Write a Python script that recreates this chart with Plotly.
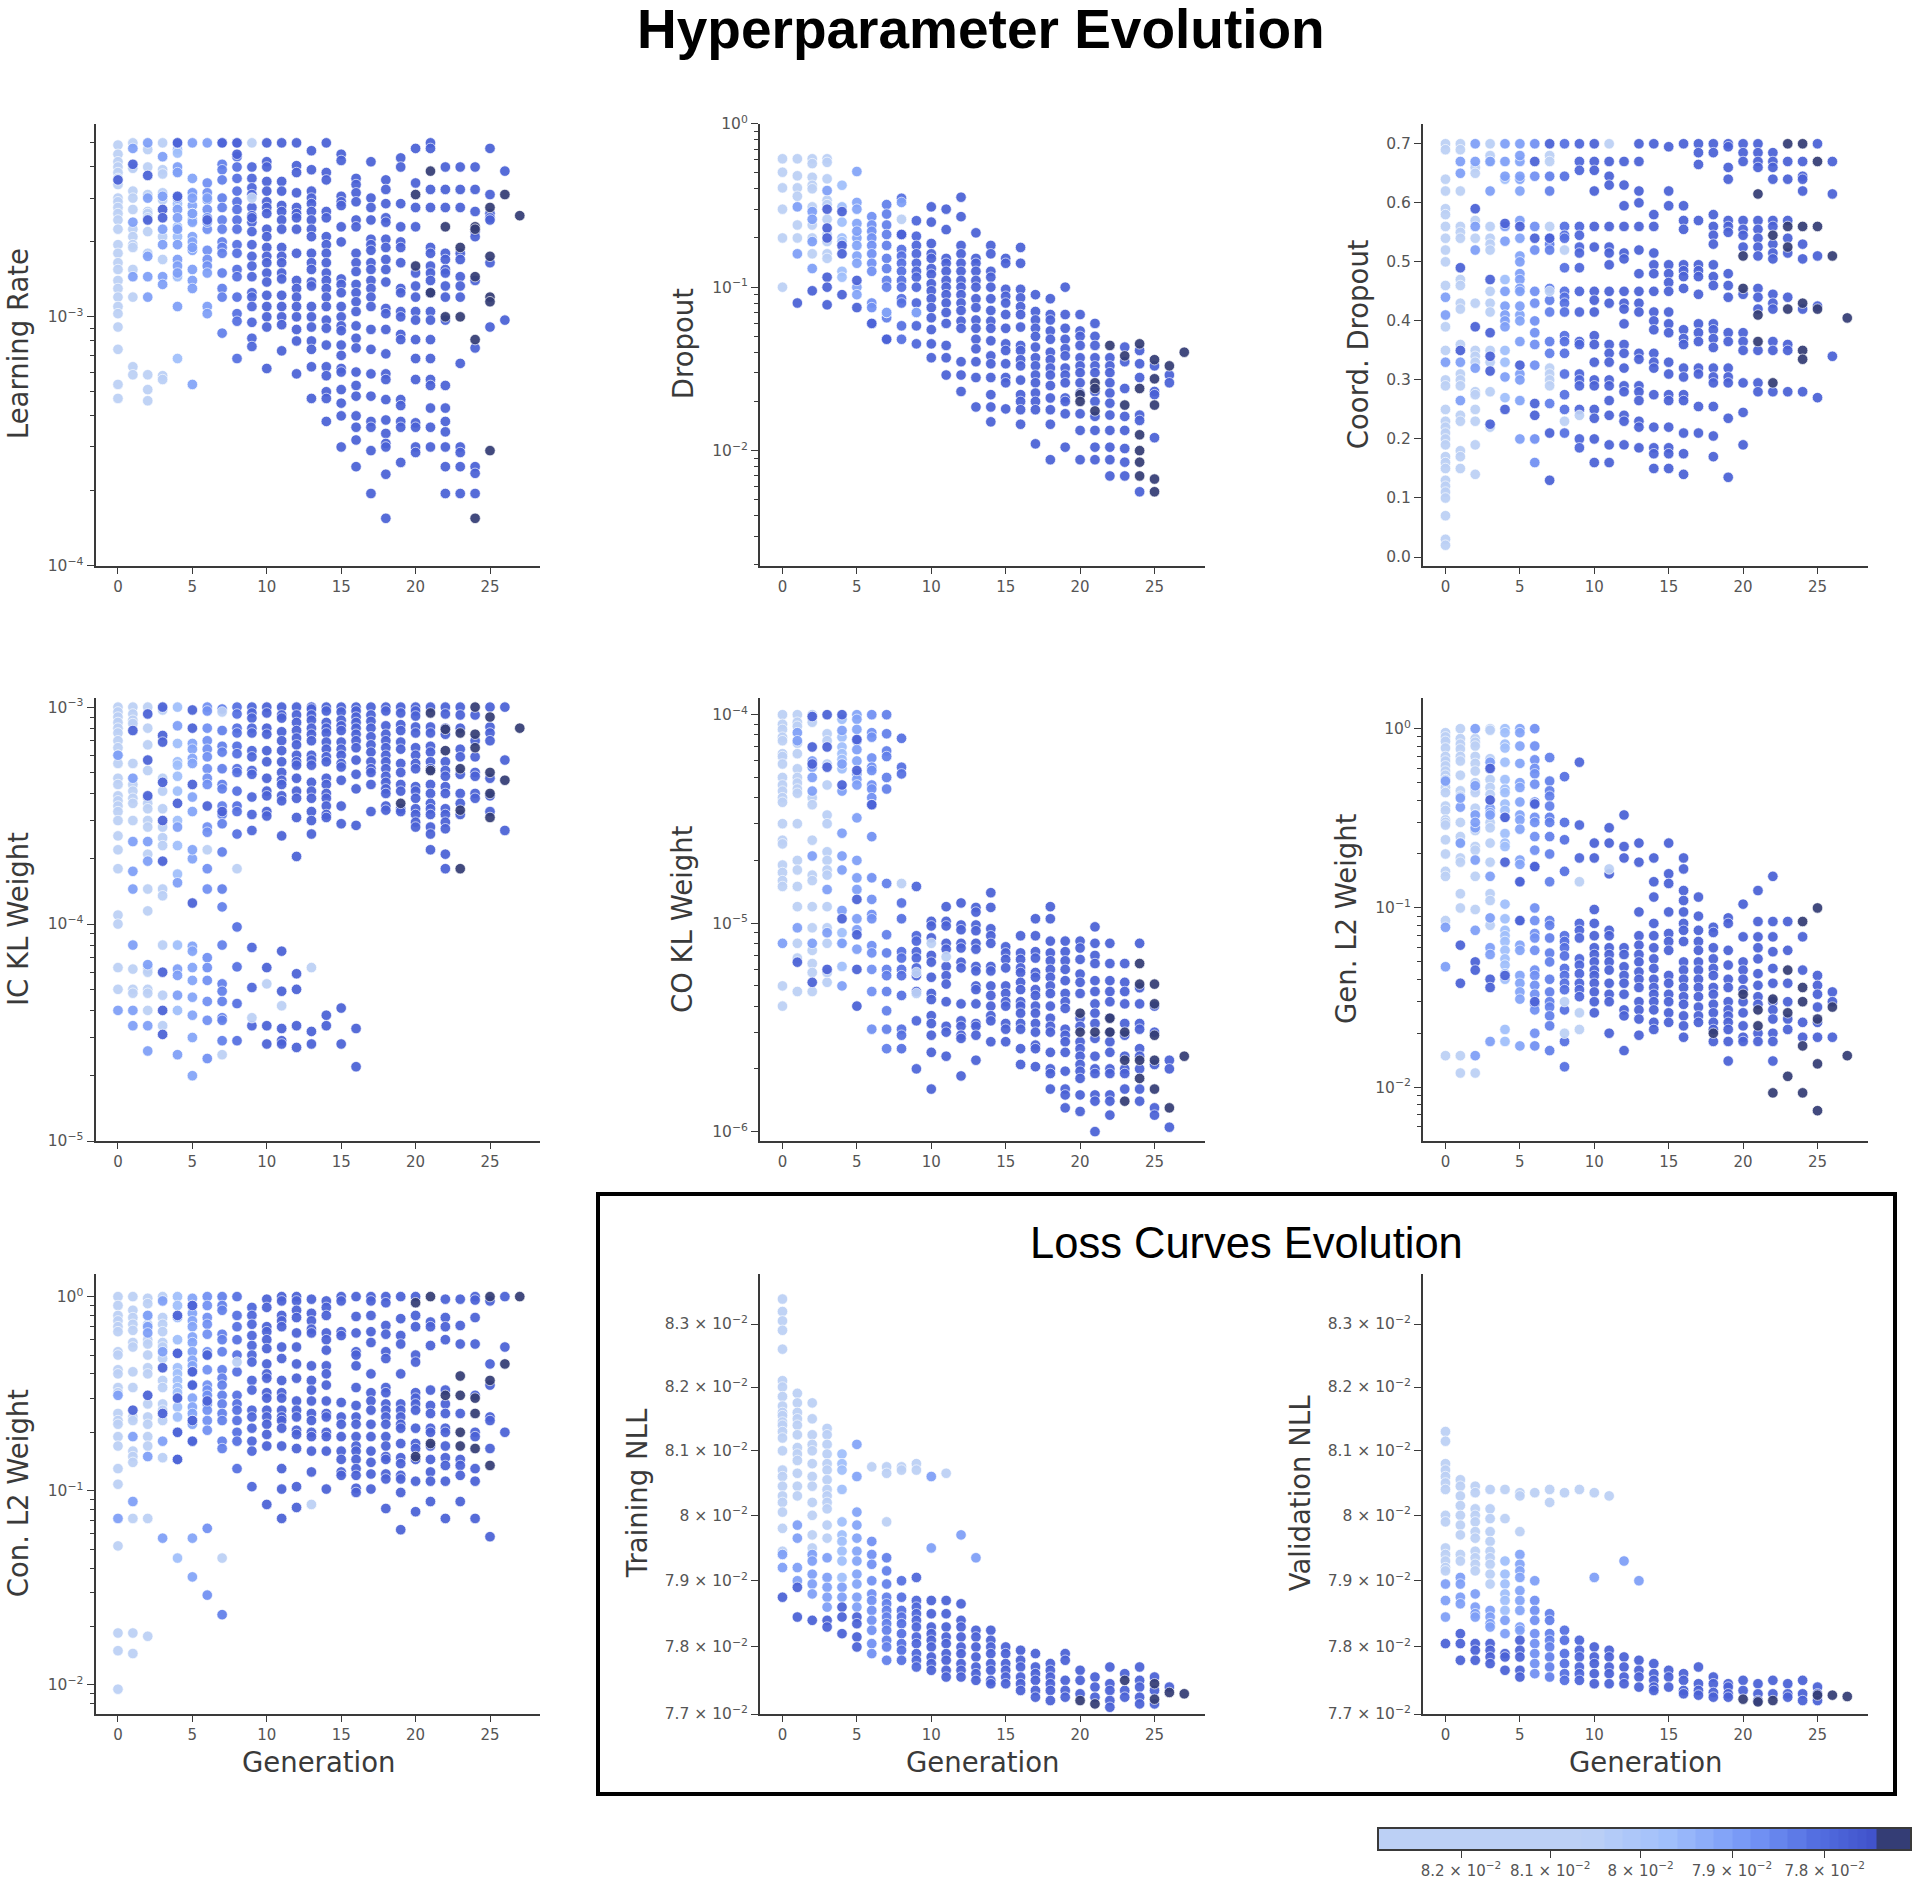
import math
import plotly.graph_objects as go

GENERATION_TICKS = [0, 5, 10, 15, 20, 25]
GEN_LOSS = [.0822, .0818, .0812, .0805, .0797, .0791, .0787, .0784, .0781, .0779] + [.0778] * 18
PALE_LOSS, BRIGHT_LOSS, ROYAL_LOSS, DARK_LOSS = .0815, .0790, .0778, .0773

# Learning Rate (x 1e-3)
LR_MAIN = {
0:[4.9,4.5,4.2,4,3.8,3.6,3.4,3.0,2.9,2.75,2.6,2.45,2.25,1.95,1.8,1.65,1.55,1.4,1.3,1.2,1.1,1.03,.91,.74,.535,.47],
1:[5,4,3.95,3.2,3,2.7,2.25,2.1,1.95,1.9,1.55,1.2,.63,.585],
2:[4.7,4.0,3.1,2.2,1.8,2.65,2.6,2.5,.585,.51,.46],
3:[5,3.9,3.75,3.15,2.95,2.1,1.7,.58,.56],
4:[4.7,4.55,3.85,2.85,2.3,2.1,1.45,.68],
5:[3.6,3.15,2.8,2.6,2.45,2.4,2.1,2.0,1.85,.535],
6:[3.45,3.15,2.95,2.7,2.5,2.25,1.85,1.7,1.6],
7:[4.1,3.9,3.55,3.0,2.75,2.45,2.25,2.0,1.9,1.8,1.5,1.3,1.2,.86],
8:[4.4,4.0,3.6,3.2,2.9,2.7,2.45,2.25,1.95,1.8,1.55,1.45,1.2,1.03,.96,.68],
9:[4.0,3.6,3.3,3.1,2.75,2.55,2.4,2.2,1.95,1.75,1.6,1.45,1.25,1.2,1.1,.95,.82,.76],
10:[5,4.2,4.0,3.5,3.2,2.9,2.75,2.6,2.25,2.1,1.9,1.75,1.65,1.5,1.38,1.22,1.1,1.0,.91,.62],
11:[5,3.5,3.2,2.8,2.65,2.45,2.25,1.9,1.75,1.65,1.5,1.42,1.22,1.1,1.0,.93,.73],
12:[5,4.05,3.8,3.15,2.75,2.6,2.5,2.25,1.8,1.4,1.3,1.2,1.1,1.0,.89,.8,.59],
13:[4.65,3.9,3.2,3.0,2.85,2.65,2.45,2.25,2.1,1.8,1.65,1.55,1.38,1.33,1.1,1.0,.91,.8,.74,.63,.47],
14:[5,3.8,3.55,2.65,2.5,2.1,1.95,1.8,1.65,1.5,1.4,1.3,1.2,1.1,.97,.9,.77,.63,.58,.5,.47,.38],
15:[4.5,4.25,3.05,2.9,2.8,2.3,2.0,1.42,1.35,1.25,1.1,1.0,.92,.88,.77,.7,.62,.6,.51,.45,.4,.3],
16:[3.6,3.4,3.15,2.9,2.45,2.3,1.8,1.65,1.52,1.35,1.25,1.15,1.05,.92,.82,.75,.6,.53,.48,.4,.36,.32,.25],
17:[4.2,3.0,2.75,2.45,2.05,1.95,1.85,1.65,1.55,1.4,1.3,1.2,1.1,.89,.74,.59,.48,.38,.36,.29,.195],
18:[3.55,3.25,2.85,2.5,2.4,2.05,1.9,1.7,1.55,1.38,1.08,1.03,.89,.71,.59,.56,.465,.385,.34,.31,.3,.233,.155],
19:[4.35,4.0,2.85,2.3,2.0,1.9,1.65,1.3,1.25,1.05,1.0,.85,.81,.465,.44,.38,.36,.26],
20:[4.75,3.45,2.75,2.3,1.5,1.33,1.2,1.05,.97,.81,.68,.56,.375,.36,.3,.285],
21:[5,4.75,3.25,2.75,1.9,1.8,1.6,1.5,1.4,1.25,1.05,.97,.81,.68,.56,.53,.43,.36,.3],
22:[4.0,3.25,2.75,1.8,1.7,1.55,1.5,1.33,1.2,.97,.53,.43,.38,.345,.3,.25,.195],
23:[4.0,3.25,2.75,1.8,1.7,1.45,1.33,1.2,.65,.3,.285,.25,.195],
24:[4.0,3.25,2.65,2.2,2.1,1.4,.75,.25,.235,.195],
25:[4.75,3.1,2.6,2.5,2.45,1.65,.91],
26:[3.85,.97]}
LR_PALE = {5:[2.6], 9:[5,3.0]}
LR_BRIGHT = {1:[4.75,2.4,1.45], 2:[5,3.0,1.75,1.45,1.2], 3:[4.4,3.05,2.25,1.95,1.45,1.35],
             4:[5,4,3.8,3,2.7,2.5,2.25,1.95,1.7,1.6,1.5,1.1], 5:[5,3.15,3.0,2.6,1.9,1.55,1.4,1.3],
             6:[5,3.0,2.4,1.5,1.1,1.03], 7:[5], 8:[5]}
LR_ROYAL = {0:[3.55], 1:[4.1], 2:[3.7,2.45], 3:[2.7,2.5], 4:[5,3.05], 6:[2.45], 7:[5], 8:[5,4.5], 9:[2.5]}
LR_DARK = {20:[3.1,1.6], 21:[3.85,1.25], 22:[2.3,1.0], 23:[1.9,1.0], 24:[2.3,2.25,1.45,.81,.155],
           25:[2.75,1.75,1.2,1.15,.29], 26:[3.1], 27:[2.55]}

# Dropout
DO_MAIN = {
0:[.61,.505,.405,.3,.2,.1],
1:[.61,.48,.405,.36,.24,.2],
2:[.61,.57,.47,.42,.4,.31,.24,.2,.16],
3:[.61,.58,.46,.34,.32,.26,.21,.19,.16,.15],
4:[.42,.2,.125,.115,.31,.25,.19],
5:[.51,.33,.3,.245,.2,.18,.155,.14,.1,.09],
6:[.27,.24,.22,.2,.18,.16,.14,.125,.08,.075,.06],
7:[.32,.28,.24,.21,.18,.15,.13,.11,.1,.065,.048],
8:[.35,.21,.17,.155,.14,.125,.11,.1,.085,.08,.058,.048],
9:[.255,.205,.18,.16,.14,.125,.115,.1,.08,.058,.045],
10:[.31,.25,.185,.16,.15,.13,.12,.105,.095,.085,.075,.065,.055,.045,.037],
11:[.3,.225,.15,.14,.125,.11,.1,.09,.08,.07,.06,.044,.037,.029],
12:[.355,.27,.18,.16,.14,.125,.11,.1,.09,.08,.072,.062,.056,.035,.029,.023],
13:[.215,.15,.14,.125,.11,.1,.085,.075,.063,.056,.048,.042,.035,.028,.0185],
14:[.18,.16,.125,.115,.1,.085,.072,.062,.056,.047,.038,.034,.028,.022,.0185,.015],
15:[.15,.14,.097,.088,.08,.068,.056,.045,.041,.034,.028,.026,.018],
16:[.175,.14,.097,.086,.076,.068,.057,.044,.041,.036,.033,.027,.022,.02,.0178,.0145],
17:[.09,.071,.063,.056,.05,.043,.037,.033,.029,.026,.0225,.02,.0178,.011],
18:[.085,.068,.063,.054,.048,.04,.036,.032,.029,.025,.021,.0178,.0145,.0088],
19:[.1,.068,.056,.048,.042,.038,.032,.029,.026,.021,.02,.0168,.0105],
20:[.068,.054,.05,.044,.037,.033,.03,.026,.0225,.0168,.0133,.0088],
21:[.06,.05,.044,.037,.033,.03,.023,.02,.0162,.0133,.0105,.0088],
22:[.037,.033,.03,.026,.0225,.0195,.0165,.0133,.0105,.0088,.007],
23:[.043,.035,.024,.0162,.0133,.0103,.0085,.007],
24:[.041,.034,.028,.0165,.0153,.0056],
25:[.033,.023,.022,.012],
26:[.029,.026]}
DO_PALE = {8:[.26], 9:[.07], 7:[.07]}
DO_BRIGHT = {1:[.31,.16], 2:[.29,.26,.19,.13], 3:[.39], 5:[.22], 7:[.07], 8:[.33], 9:[.07]}
DO_ROYAL = {1:[.08], 2:[.095], 3:[.3,.23,.2,.115,.1,.078], 4:[.29,.18,.16,.09], 5:[.11,.075], 6:[.06], 7:[.048], 8:[.21]}
DO_DARK = {20:[.022,.02], 21:[.026,.024,.0175], 22:[.044], 23:[.038,.019], 24:[.045,.024,.0125,.01,.0085,.007],
           25:[.036,.0275,.019,.0067,.0056], 26:[.033], 27:[.04]}

# Coord. Dropout
CD_MAIN = {
0:[.7,.69,.64,.62,.59,.58,.56,.54,.52,.5,.46,.39,.35,.3,.29,.25,.23,.22,.21,.2,.19,.17,.16,.15,.13,.12,.11,.1,.07,.03,.02],
1:[.7,.69,.62,.56,.55,.54,.47,.46,.43,.42,.36,.31,.3,.29,.24,.23,.18,.17,.15],
2:[.66,.65,.57,.54,.43,.35,.34,.33,.28,.275,.25,.23,.19,.14],
3:[.7,.68,.67,.56,.54,.53,.52,.45,.43,.415,.35,.33,.28,.22],
4:[.64,.47,.35,.33,.27],
5:[.62,.64,.67,.54,.51,.41,.4,.265],
6:[.7,.645,.56,.52,.45,.43,.4,.38,.36,.325,.2,.16],
7:[.645,.62,.54,.53,.52,.455,.435,.415,.365,.345,.26],
8:[.7,.645,.56,.545,.54,.49,.45,.44,.43,.415,.375,.365,.345,.31,.275,.25,.21],
9:[.7,.67,.655,.56,.545,.525,.515,.49,.45,.415,.365,.36,.31,.3,.29,.25,.2,.185],
10:[.7,.67,.655,.62,.56,.525,.45,.435,.415,.375,.36,.33,.3,.29,.25,.235,.2,.16],
11:[.67,.645,.63,.56,.525,.515,.495,.45,.43,.36,.345,.33,.3,.29,.265,.24,.19,.16],
12:[.67,.63,.595,.56,.515,.505,.45,.43,.42,.395,.36,.345,.32,.29,.28,.24,.23,.19],
13:[.7,.67,.62,.6,.56,.52,.48,.45,.43,.415,.345,.335,.29,.28,.265,.23,.22,.185],
14:[.7,.58,.56,.515,.495,.48,.45,.415,.4,.385,.345,.33,.32,.275,.22,.185,.175,.15],
15:[.695,.62,.595,.495,.48,.465,.45,.415,.395,.38,.33,.31,.275,.265,.22,.185,.175,.15],
16:[.7,.595,.57,.555,.495,.485,.475,.455,.385,.37,.36,.32,.305,.275,.265,.21,.175,.14],
17:[.7,.685,.665,.57,.495,.485,.475,.445,.395,.38,.365,.32,.31,.255,.21],
18:[.7,.685,.58,.56,.545,.53,.495,.475,.46,.395,.385,.37,.355,.32,.305,.295,.255,.205,.17],
19:[.7,.695,.66,.64,.57,.56,.55,.48,.46,.44,.38,.365,.32,.305,.295,.235,.135],
20:[.7,.685,.67,.57,.555,.545,.525,.445,.38,.365,.35,.295,.245,.19],
21:[.7,.685,.67,.66,.57,.555,.54,.525,.51,.455,.44,.42,.35,.295,.28],
22:[.685,.67,.66,.64,.57,.56,.53,.515,.505,.445,.43,.42,.365,.35,.28],
23:[.67,.64,.57,.54,.515,.44,.36,.35,.28],
24:[.67,.645,.64,.62,.53,.505,.42,.28],
25:[.7,.51,.425,.27],
26:[.67,.615,.34]}
CD_PALE = {7:[.68,.67,.56,.45,.32,.31,.3,.29], 8:[.52,.23], 9:[.24], 11:[.7]}
CD_BRIGHT = {0:[.44,.41,.33], 1:[.67,.65,.33,.265], 2:[.7,.67,.56,.52,.32], 3:[.67,.62],
             4:[.7,.67,.645,.56,.535,.45,.425,.41,.4,.39,.305], 5:[.7,.68,.645,.57,.5,.48,.47,.455,.45,.425,.365,.31,.3,.2]}
CD_ROYAL = {1:[.49,.35], 2:[.59,.39], 3:[.47,.38,.34,.315,.225], 4:[.565,.25], 5:[.56,.325], 6:[.67,.54,.26,.24], 7:[.7,.54,.21,.13]}
CD_DARK = {20:[.51,.455], 21:[.615,.41,.365], 22:[.545,.295], 23:[.7,.56,.525,.42], 24:[.7,.56,.43,.35,.335],
           25:[.67,.56,.42], 26:[.51], 27:[.405]}

# IC KL Weight (x 1e-4)
IC_MAIN = {
0:[10,9.5,9,8.5,8,7.6,7,6.5,6,5.5,4.7,4.4,3.9,3.7,3.5,3.3,3,2.55,2.2,1.8,1.1,1,.63,.5],
1:[10,9.3,8.7,8.4,5.5,4.4,4.1,3.8,3.6,3.0,.62,.5,.48],
2:[10,8,6.7,5.1,3.8,3.6,3.4,3.0,2.8,2.1,1.45,1.15,.62,.6,.5,.48,.4],
3:[9.7,4.7,4.1,3.4,2.8,2.5,2.3,1.45,1.35,.8,.47,.34],
4:[10,6.8,5.6,5.4,4.8,4.1,3,2.3,1.7,.8,.4],
5:[3.3,2,.63,.79,6.8,6.4,5.8,5.5,3.85,2.2,.75,.55,.46,.38,.3,.2],
6:[10,9.6,8,7,6.4,5.9,5.2,4.7,4.4,2.8,2.65,1.8,1.45,.7,.63,.55,.44,.36,.24],
7:[9.8,7.8,6.6,6.2,5.2,4.4,4.2,3.5,3.2,2.9,2.15,1.45,1.2,.8,.53,.49,.44,.37,.36,.29],
8:[10,9.3,8,7.6,6.6,6.1,5.2,5,4.1,3.5,3.3,2.6,.97,.635,.43,.29],
9:[10,9.4,8.9,8,7.6,6.3,5.9,5.1,4.9,3.85,3.2,2.7,.78,.51,.34],
10:[10,9.4,8,7.5,6.3,5.6,4.7,4.1,3.9,3.3,3.15,.63,.34,.28],
11:[10,9.2,8.9,7.7,7,6.3,5.6,5,4.6,4.4,3.9,3.7,2.55,.75,.49,.33,.29,.28],
12:[10,9.2,8.5,7.8,7.2,6.7,6,5.6,5.4,4.7,4.1,3.8,3.1,2.05,.59,.5,.34,.27],
13:[10,9.8,9.2,8.7,8,7.5,7,6,5.7,5.4,4.5,4.1,3.8,3.3,3,2.6,.32,.28],
14:[10,9.6,8.5,8,7.6,6.9,6.4,5.9,5.6,4.7,4.4,4.0,3.8,3.5,3.2,3.1,.38,.34],
15:[10,9.5,8.7,8.2,7.8,6.9,6.4,6,5.5,5.3,4.6,3.5,2.9,.41,.28],
16:[10,9.6,9,8.5,8,7.5,7,6.5,5.7,4.9,4.2,2.85,.33,.22],
17:[10,9.2,8.6,8.0,7.3,6.7,6.2,5.6,5.2,5,4.4,3.3],
18:[10,9.6,8.2,7.5,7,6.5,6,5.6,5.2,4.8,4.5,4.2,4,3.5,3.35],
19:[10,9.4,8.3,7.8,6.9,6.4,5.5,5,4.4,4.1,3.4,3.3],
20:[10,9.6,9.1,8.1,7.6,6.5,6,5.5,5.2,4.3,4.1,3.8,3.4,3.2,2.95,2.8],
21:[10,8.1,7.6,6.6,6.2,5.6,5.2,4.4,4,3.6,3.4,3.2,2.8,2.6,2.2],
22:[10,9.3,8,7.5,5.6,5.1,4.8,4.3,4,3.4,3.2,2.95,2.75,2.1,1.8],
23:[10,9.2,8,6.4,5.9,4.9,4,3.6,3.2],
24:[9.2,7,5.9,5,4.8,4,3.8],
25:[10,8.1,7.6,7,4.7,3.9,3.3],
26:[10,5.7,2.7]}
IC_PALE = {6:[2.2], 7:[9.5,.25], 8:[1.8], 9:[.37], 11:[.42], 10:[.53], 13:[.63]}
IC_BRIGHT = {0:[6,.4], 1:[4.7,2.4,1.75,1.45,.8,.34,.4], 2:[2.4,1.95,.65,.34,.26], 4:[8.2,2.8,1.55,.62,.58,.47,.25]}
IC_ROYAL = {1:[7.8], 2:[9.3,5.7,3.9], 3:[10,7.4,6.9,4.5,3,1.95,.6,.4,.31], 4:[3.6], 5:[9.7,8,4.4,1.25], 6:[3.5], 7:[3.3]}
IC_DARK = {19:[3.6], 21:[9.4,5.1], 22:[7.9,6.3], 23:[7.6,5.2,3.35,1.8], 24:[10,7.5,6.5], 25:[9,5,4,3.1], 26:[4.6], 27:[8]}

# CO KL Weight (x 1e-6)
CO_MAIN = {
0:[100,90,85,78,75,65,63,58,50,46,43,40,38,30,25,24,19,17.5,16,15,5,4],
1:[100,92,88,73,65,55,50,47,44,42,30,20,18,15,12,8,6.8,4.7],
2:[100,92,40,37,25,17,16,12,9.5,7.4,6.4,5.8,4.7],
3:[81,75,58,46,33,30,22,20,18,17,12,9.5,8,5.2,5.8],
4:[95,78,70,65,61,55,9,8,6.2],
5:[100,95,85,60],
6:[100,82,78,62,56,54,46,44,40,37,26,16.5,13,11,10.5,7.8,7.2,6,4.7,3.1],
7:[100,81,67,63,50,44,15.5,8.8,7.2,6,5.6,4.7,3.8,3.1,2.5],
8:[77,56,52,12.5,10.5,7.3,6.8,6,5.6,4.5,3.1,2.9,2.5],
9:[15,8.7,8.2,7.3,6.8,6.1,5.6,4.7,3.4,2],
10:[10.2,9.7,8.5,7,6.5,5.5,4.6,4.3,3.6,3.3,2.9,2.4,1.6],
11:[12,10.2,9.7,8,7.5,6.2,5.6,5.1,4.2,3.2,3,2.3],
12:[12.5,9.8,9.3,8,7.6,6.5,6.1,4.1,3.4,3.2,2.9,2.8,1.85],
13:[11.9,11.3,9.8,9.2,8,7.5,6.2,5.9,5,4.8,4.1,3.3,3.2,2.9,2.2],
14:[14,11.9,9.4,8.7,8,6.2,5.9,5,4.5,4,3.6,3.4,2.7],
15:[7.7,7.2,6.7,6.1,5,4.6,4.2,4,3.3,3.1,2.7],
16:[8.7,7.2,6.7,6.1,5.8,5.2,4.8,4.2,4,3.7,3.3,3.1,2.5,2.1],
17:[10.5,8.7,7.3,6.8,5.8,5.5,4.8,4.5,4,3.7,3.3,3,2.6,2.5,2.05],
18:[12,10.5,8.2,7.2,6.6,6,5.5,5,4.6,4,3.5,3.2,3,2.4,2,1.9,1.6],
19:[8.2,7.3,6.6,6,5.3,4.6,4.2,3.9,3.1,2.9,2.7,2.4,1.95,1.6,1.5,1.3],
20:[8.2,7.6,6.7,5.7,5.2,4.6,3.5,3.2,2.7,2.5,2.3,2.1,1.95,1.8,1.5,1.25],
21:[9.6,8,7,6.4,5.3,4.7,4.1,3.7,3.3,2.8,2.3,2,1.9,1.5,1.4,1],
22:[8,6.4,5.3,4.7,4.2,3.5,3,2.7,2.4,2,1.9,1.5,1.4,1.2],
23:[6.4,5.2,4.7,4.1,3.3,2.9,2.3,2,1.9,1.6],
24:[8,4.9,4.1,3.3,3.1,2.5,2.3,2,1.6,1.4],
25:[4,3,2.1,1.3,1.2],
26:[2.2,2,1.05]}
CO_PALE = {8:[15.5], 9:[5.8,4.6], 10:[8], 11:[6.9]}
CO_BRIGHT = {0:[8], 1:[82,75,9.5], 2:[60,56,50,43,21,8], 3:[14.5,9],
             4:[84,58,43,27,21,18,11.5,8,5], 5:[75,68,52,49,46,32,20,16.5,14.5,10.5,9.3,7.5]}
CO_ROYAL = {1:[6.5], 2:[98,70,58,5.2], 3:[100,70,56,6], 4:[100,46,10.5], 5:[76,54,13,8.8,6,4], 6:[37]}
CO_DARK = {20:[3.7,3], 21:[3], 22:[3.5,3], 23:[3,2.2,1.4], 24:[6.4,5.1,2.2,1.8], 25:[5.1,4.1,2.9,2.2,1.6], 26:[1.3], 27:[2.3]}

# Gen. L2 Weight
GE_MAIN = {
0:[.95,.9,.85,.78,.7,.66,.62,.58,.55,.52,.47,.44,.37,.35,.31,.3,.29,.24,.2,.16,.15,.085,.015],
1:[1,.88,.82,.77,.7,.66,.55,.45,.42,.3,.25,.23,.19,.18,.12,.1,.015,.012],
2:[.88,.84,.8,.7,.64,.58,.5,.46,.44,.36,.33,.27,.22,.21,.15,.098,.012],
3:[1,.98,.68,.6,.52,.47,.43,.3,.28,.23,.18,.12,.11,.08],
4:[1,.95,.82,.78,.65,.52,.46,.44,.38,.35,.32,.26,.23,.22,.105,.087,.075,.07,.065,.058,.052,.048,.043,.04,.021,.018],
5:[1,.95,.8,.64,.5,.47,.39,.33,.31,.275,.185,.175,.14,.085,.062,.058,.042,.038,.034,.031,.017],
6:[1,.8,.67,.6,.56,.49,.39,.38,.32,.3,.25,.21,.17,.1,.085,.072,.068,.058,.045,.042,.037,.033,.029,.027,.02,.017],
7:[.69,.51,.45,.42,.37,.32,.3,.25,.2,.14,.085,.08,.068,.056,.05,.04,.034,.03,.028,.025,.022,.016],
8:[.54,.3,.24,.16,.07,.065,.06,.054,.046,.042,.038,.035,.027,.018,.013],
9:[.65,.29,.19,.082,.075,.068,.052,.048,.043,.038,.035,.032],
10:[.23,.19,.098,.082,.07,.06,.055,.05,.045,.042,.038,.034,.03,.026],
11:[.28,.23,.155,.075,.07,.06,.055,.05,.045,.038,.033,.03,.02],
12:[.33,.22,.19,.06,.055,.047,.042,.038,.033,.027,.025,.016],
13:[.23,.18,.095,.07,.062,.055,.05,.044,.04,.036,.03,.027,.024,.0195],
14:[.19,.14,.115,.082,.07,.06,.052,.046,.04,.036,.033,.03,.027,.023,.021],
15:[.23,.155,.137,.095,.072,.065,.058,.042,.038,.033,.03,.026,.023],
16:[.19,.165,.125,.11,.095,.082,.075,.065,.05,.045,.04,.036,.032,.029,.025,.022,.019],
17:[.115,.09,.075,.065,.058,.05,.045,.04,.036,.032,.028,.025,.023],
18:[.078,.073,.06,.052,.046,.042,.036,.033,.029,.026,.023,.021,.018],
19:[.088,.082,.058,.048,.04,.036,.03,.027,.025,.023,.021,.018,.014],
20:[.105,.069,.05,.045,.04,.035,.03,.026,.022,.019,.018],
21:[.125,.084,.069,.06,.052,.043,.037,.032,.029,.02,.018],
22:[.15,.084,.069,.057,.046,.038,.03,.027,.024,.02,.018,.014],
23:[.084,.058,.038,.03,.024,.021],
24:[.045,.069,.023,.019],
25:[.042,.037,.033,.028,.023,.019],
26:[.034,.03,.019]}
GE_PALE = {8:[.03,.02], 9:[.14,.026,.021], 11:[.165]}
GE_BRIGHT = {0:[.51,.078,.047], 1:[.23,.365,.41], 2:[1,.48,.33,.28,.3,.185,.075,.015], 3:[.15,.65,.36,.34,.33,.088,.06,.055,.018]}
GE_ROYAL = {1:[.062,.038], 2:[.05,.045], 3:[.6,.4,.04,.036], 4:[.18,.32,.042], 5:[.14,.085], 6:[.17,.38,.03]}
GE_DARK = {18:[.02], 20:[.033], 21:[.027,.022], 22:[.031,.0093], 23:[.045,.026,.0115], 24:[.084,.036,.03,.017,.0093],
           25:[.1,.024,.0135,.0074], 26:[.028], 27:[.015]}

# Con. L2 Weight
CL_MAIN = {
0:[1,.9,.8,.75,.7,.66,.52,.5,.42,.4,.34,.32,.25,.23,.22,.19,.17,.13,.108,.052,.0185,.015,.0095],
1:[1,.85,.78,.72,.67,.58,.55,.41,.34,.24,.23,.16,.15,.14,.072,.0185,.0145],
2:[.98,.92,.8,.72,.6,.57,.5,.43,.4,.28,.24,.22,.19,.17,.072,.0178],
3:[1,.78,.72,.66,.58,.55,.48,.37,.34,.28,.26,.23,.148],
4:[1,.9,.78,.6,.51,.43,.4,.37,.34,.32,.3,.27,.24,.2,.145,.045],
5:[.98,.9,.82,.75,.7,.62,.58,.52,.47,.44,.41,.35,.3,.27,.25,.23,.22,.18,.057,.036],
6:[1,.9,.78,.72,.64,.52,.5,.42,.35,.33,.31,.28,.26,.23,.205,.064,.029],
7:[1,.9,.85,.64,.6,.52,.42,.38,.35,.31,.28,.25,.23,.18,.165,.023],
8:[1,.8,.7,.6,.5,.41,.31,.28,.26,.23,.2,.18,.13],
9:[.88,.8,.72,.63,.56,.5,.46,.37,.33,.26,.24,.21,.18,.16,.105],
10:[.97,.88,.7,.66,.6,.54,.45,.4,.38,.32,.3,.26,.24,.22,.195,.17,.085],
11:[1,.95,.8,.75,.7,.55,.48,.37,.32,.3,.26,.24,.23,.21,.17,.13,.102,.072],
12:[1,.95,.85,.78,.65,.55,.45,.38,.29,.26,.24,.205,.195,.165,.105,.082],
13:[.97,.82,.75,.68,.65,.44,.37,.33,.29,.25,.23,.2,.19,.16,.125],
14:[.95,.88,.8,.65,.6,.53,.44,.4,.35,.29,.25,.24,.2,.19,.16,.102],
15:[1,.95,.66,.63,.285,.24,.22,.19,.16,.145,.125,.12],
16:[1,.79,.65,.52,.5,.44,.34,.275,.24,.22,.19,.17,.16,.145,.13,.12,.103,.098],
17:[1,.95,.8,.66,.58,.4,.32,.29,.26,.22,.19,.16,.14,.122,.102],
18:[1,.93,.71,.64,.52,.48,.34,.32,.28,.26,.24,.22,.19,.17,.15,.145,.122,.115,.081],
19:[1,.77,.63,.57,.4,.28,.26,.24,.22,.21,.175,.148,.138,.12,.115,.098,.063],
20:[1,.8,.7,.5,.46,.32,.3,.28,.26,.21,.175,.165,.145,.112,.078],
21:[.74,.7,.56,.33,.275,.25,.21,.2,.17,.145,.125,.112,.088],
22:[.97,.78,.7,.6,.33,.28,.25,.21,.2,.17,.148,.135,.112,.072],
23:[.97,.71,.57,.25,.145,.135,.12,.088],
24:[1,.96,.78,.57,.31,.2,.19,.13,.112,.072],
25:[.95,.45,.35,.24,.23,.165,.058],
26:[1,.55,.2]}
CL_PALE = {7:[.045], 8:[.46], 13:[.085]}
CL_BRIGHT = {0:[.072,.31], 1:[.19,.088], 2:[.8,.7,.65,.15], 3:[.95,.52,.18,.057]}
CL_ROYAL = {1:[.26], 2:[.31], 3:[.43,.25], 4:[.8,.51,.3,.2,.145], 5:[.9,.41,.35,.23,.18], 6:[.5,.29]}
CL_DARK = {20:[.93,.15], 21:[1,.175], 22:[.31], 23:[.39,.31,.2,.17], 24:[.3,.25,.165], 25:[1,.37,.135], 26:[.45], 27:[1]}

# Training NLL (x 1e-2)
TN_MAIN = {
0:[8.34,8.32,8.305,8.29,8.26,8.21,8.2,8.185,8.17,8.16,8.155,8.145,8.14,8.13,8.12,8.1,8.07,8.06,8.045,8.03,8.02,8.005,7.98,7.945],
1:[8.19,8.175,8.16,8.15,8.14,8.125,8.105,8.095,8.085,8.065,8.045,8.03],
2:[8.175,8.15,8.125,8.11,8.1,8.08,8.06,8.045,8.02,8.0,7.97,7.95],
3:[8.135,8.125,8.11,8.095,8.08,8.07,8.055,8.04,8.03,8.02,8.01,7.985,7.965],
4:[8.095,8.08,8.07,8.04,7.99,7.97,7.96,7.945,7.93,7.905],
5:[8.11,8.06,8.005,7.985,7.965,7.945,7.93,7.91,7.895],
6:[7.96,7.94,7.925,7.9,7.88,7.87,7.855,7.84,7.825,7.805,7.79],
7:[7.935,7.915,7.895,7.875,7.865,7.855,7.845,7.835,7.825,7.81,7.8,7.78],
8:[7.9,7.875,7.855,7.845,7.835,7.82,7.805,7.795,7.78],
9:[7.905,7.87,7.86,7.85,7.84,7.83,7.815,7.805,7.79,7.78,7.77],
10:[7.87,7.85,7.83,7.82,7.81,7.8,7.785,7.775,7.765],
11:[7.87,7.85,7.83,7.815,7.805,7.79,7.78,7.765,7.755],
12:[7.865,7.84,7.83,7.815,7.8,7.79,7.775,7.765,7.755],
13:[7.825,7.815,7.8,7.785,7.77,7.76,7.75],
14:[7.825,7.81,7.8,7.79,7.775,7.765,7.75,7.745],
15:[7.8,7.79,7.775,7.765,7.755,7.745],
16:[7.795,7.78,7.77,7.755,7.745,7.735],
17:[7.79,7.77,7.76,7.75,7.735,7.725],
18:[7.775,7.765,7.755,7.745,7.735,7.72],
19:[7.79,7.78,7.75,7.735,7.725],
20:[7.765,7.75,7.73],
21:[7.755,7.74,7.725],
22:[7.77,7.745,7.735,7.72,7.71],
23:[7.76,7.735,7.725],
24:[7.77,7.75,7.74,7.725,7.715],
25:[7.755,7.735,7.715],
26:[7.74]}
TN_PALE = {6:[8.075], 7:[8.075,8.065,7.99], 8:[8.075,8.07], 9:[8.08,8.07], 11:[8.065]}
TN_BRIGHT = {0:[7.94,7.92], 1:[7.985,7.965,7.92,7.9], 2:[7.94,7.93,7.91,7.895,7.88],
             3:[7.935,7.905,7.89,7.875,7.86], 4:[7.89,7.875], 5:[7.875,7.86], 10:[8.06,7.95], 12:[7.97], 13:[7.935]}
TN_ROYAL = {0:[7.875], 1:[7.89,7.845], 2:[7.84], 3:[7.84,7.83], 4:[7.86,7.845,7.82], 5:[7.845,7.835,7.815,7.8]}
TN_DARK = {20:[7.72], 21:[7.715], 23:[7.75], 25:[7.745,7.722], 26:[7.732], 27:[7.73]}

# Validation NLL (x 1e-2)
VN_MAIN = {
0:[8.13,8.115,8.08,8.07,8.06,8.05,8.04,8.0,7.99,7.95,7.94,7.93,7.92,7.915],
1:[8.055,8.045,8.03,8.015,8.0,7.985,7.97,7.94,7.93],
2:[8.045,8.035,8.01,8.0,7.99,7.975,7.965,7.945,7.935,7.925,7.915],
3:[8.04,8.01,7.995,7.975,7.96,7.945,7.935,7.925,7.91,7.895],
4:[7.93,7.91,7.895,7.88,7.87,7.855],
5:[7.94,7.925,7.915,7.905,7.885,7.87,7.855],
6:[7.87,7.855,7.84,7.82,7.805,7.79,7.775,7.76],
7:[7.85,7.84,7.82,7.81,7.8,7.785,7.77,7.755],
8:[7.825,7.81,7.79,7.775,7.76,7.75],
9:[7.81,7.795,7.785,7.77,7.76,7.75],
10:[7.8,7.785,7.775,7.76,7.745],
11:[7.795,7.785,7.77,7.76,7.745],
12:[7.785,7.77,7.755,7.745],
13:[7.78,7.765,7.755,7.74],
14:[7.775,7.76,7.75,7.74,7.735],
15:[7.765,7.755,7.74],
16:[7.76,7.75,7.735,7.73],
17:[7.77,7.745,7.735,7.728],
18:[7.755,7.745,7.732,7.725],
19:[7.745,7.74,7.73,7.725],
20:[7.75,7.735],
21:[7.745,7.73,7.72],
22:[7.75,7.73],
23:[7.745,7.73,7.725],
24:[7.75,7.73,7.72],
25:[7.74,7.73,7.72]}
VN_PALE = {4:[8.04,7.995], 5:[8.035,8.03,7.975], 6:[8.035], 7:[8.04,8.02], 8:[8.035], 9:[8.04], 10:[8.035], 11:[8.03]}
VN_BRIGHT = {0:[7.895,7.87,7.845], 1:[7.905,7.895,7.875,7.865], 2:[7.88,7.86,7.85,7.845], 3:[7.855,7.845,7.835,7.83], 4:[7.84,7.82],
             5:[7.83,7.825], 6:[7.9], 10:[7.905], 12:[7.93], 13:[7.9]}
VN_ROYAL = {0:[7.805], 1:[7.82,7.805,7.78], 2:[7.805,7.795,7.78], 3:[7.805,7.795,7.785,7.775], 4:[7.79,7.785,7.765], 5:[7.81,7.795,7.785,7.765,7.755]}
VN_DARK = {20:[7.722], 21:[7.718], 22:[7.72], 25:[7.728], 26:[7.728], 27:[7.726]}

CBAR_LOSS = [.0829,.0826,.0823,.0820,.0817,.0814,.0811,.0808,.0805,.0803,.0801,.0799,.0797,.0795,.0793,.0791,
             .0789,.0787,.0785,.0783,.0781,.0780,.0779,.0778,.0777,.0776,.0775,.0774,.0773,.0772,.0771]
PANEL_TITLES = ["Learning Rate", "Dropout", "Coord. Dropout", "IC KL Weight", "CO KL Weight",
                "Gen. L2 Weight", "Con. L2 Weight", "Training NLL", "Validation NLL"]

COLORSCALE = [[0, "#343d75"], [.058, "#343d75"], [.06, "#3f4fc8"], [.18, "#5470e2"], [.3, "#7596f6"],
              [.45, "#a0bffb"], [.56, "#b4cbf8"], [.6, "#bcd0f5"], [1, "#bcd0f5"]]
W, H = 1920, 1890
INK, TICK = "#3a3a3a", "#555555"


def points(main, pale, bright, royal, dark, scale):
    xs, ys, cs = [], [], []
    for g, vals in main.items():
        for v in vals:
            xs.append(g); ys.append(v * scale); cs.append(GEN_LOSS[g])
    for table, loss in ((pale, PALE_LOSS), (bright, BRIGHT_LOSS), (royal, ROYAL_LOSS), (dark, DARK_LOSS)):
        for g, vals in table.items():
            for v in vals:
                xs.append(g); ys.append(v * scale); cs.append(loss)
    return xs, ys, cs


def pow10(e):
    return "10<sup>%s</sup>" % str(e).replace("-", "\u2212")


def log_minor(lo, hi):
    return [m * 10 ** e for e in range(lo, hi + 1) for m in range(2, 10)]


def nll_label(v):
    m = ("%g" % (v * 100))
    return m + " \u00d7 10<sup>\u22122</sup>"


NLL_TICKS = [.077, .078, .079, .08, .081, .082, .083]
NLL_RANGE = [math.log10(.077), -1.0767]
PANELS = [
    (points(LR_MAIN, LR_PALE, LR_BRIGHT, LR_ROYAL, LR_DARK, 1e-3), 95.5, 123.7, 565.7, "log", [-4, -2.224], [1e-4, 1e-3], [pow10(-4), pow10(-3)], log_minor(-4, -3), 18, False),
    (points(DO_MAIN, DO_PALE, DO_BRIGHT, DO_ROYAL, DO_DARK, 1), 760, 123.7, 565.7, "log", [-2.704, 0], [1e-2, 1e-1, 1], [pow10(-2), pow10(-1), pow10(0)], log_minor(-3, -1), 683, False),
    (points(CD_MAIN, CD_PALE, CD_BRIGHT, CD_ROYAL, CD_DARK, 1), 1423, 123.7, 565.7, "linear", [-.0147, .734], [0, .1, .2, .3, .4, .5, .6, .7], ["0.0", "0.1", "0.2", "0.3", "0.4", "0.5", "0.6", "0.7"], None, 1358, False),
    (points(IC_MAIN, IC_PALE, IC_BRIGHT, IC_ROYAL, IC_DARK, 1e-4), 95.5, 698, 1141, "log", [-5, -2.958], [1e-5, 1e-4, 1e-3], [pow10(-5), pow10(-4), pow10(-3)], log_minor(-5, -4), 18, False),
    (points(CO_MAIN, CO_PALE, CO_BRIGHT, CO_ROYAL, CO_DARK, 1e-6), 760, 698, 1141, "log", [-6.045, -3.92], [1e-6, 1e-5, 1e-4], [pow10(-6), pow10(-5), pow10(-4)], log_minor(-6, -5), 682, False),
    (points(GE_MAIN, GE_PALE, GE_BRIGHT, GE_ROYAL, GE_DARK, 1), 1423, 698, 1141, "log", [-2.30, .171], [1e-2, 1e-1, 1], [pow10(-2), pow10(-1), pow10(0)], log_minor(-3, -1), 1346, False),
    (points(CL_MAIN, CL_PALE, CL_BRIGHT, CL_ROYAL, CL_DARK, 1), 95.5, 1273.5, 1714, "log", [-2.15, .119], [1e-2, 1e-1, 1], [pow10(-2), pow10(-1), pow10(0)], log_minor(-3, -1), 18, True),
    (points(TN_MAIN, TN_PALE, TN_BRIGHT, TN_ROYAL, TN_DARK, 1e-2), 760, 1273.5, 1714, "log", NLL_RANGE, NLL_TICKS, [nll_label(v) for v in NLL_TICKS], None, 637, True),
    (points(VN_MAIN, VN_PALE, VN_BRIGHT, VN_ROYAL, VN_DARK, 1e-2), 1423, 1273.5, 1714, "log", NLL_RANGE, NLL_TICKS, [nll_label(v) for v in NLL_TICKS], None, 1300, True),
]
PLOT_W = 444.5

fig = go.Figure()
layout = dict(width=W, height=H, autosize=False, margin=dict(l=0, r=0, t=0, b=0, autoexpand=False), paper_bgcolor="white",
              plot_bgcolor="white", showlegend=False, font=dict(family="DejaVu Sans", color=TICK),
              coloraxis=dict(colorscale=COLORSCALE, cmin=.07707, cmax=.08288, showscale=False))
notes = []


def text(x, y, s, size, color=INK, rot=0, family="DejaVu Sans"):
    notes.append(dict(x=x / W, y=1 - y / H, xref="paper", yref="paper", text=s, showarrow=False, textangle=rot,
                      xanchor="center", yanchor="middle", font=dict(size=size, color=color, family=family)))


for i, (pts, left, top, bottom, ytype, yrange, yticks, ylabels, minor, tx, has_xlabel) in enumerate(PANELS):
    n = i + 1
    sfx = "" if n == 1 else str(n)
    xs, ys, cs = pts
    fig.add_trace(go.Scatter(x=xs, y=ys, mode="markers", xaxis="x" + sfx, yaxis="y" + sfx,
                             marker=dict(size=10.5, color=cs, coloraxis="coloraxis", opacity=.93,
                                         line=dict(color="white", width=.7))))
    xa = dict(domain=[left / W, (left + PLOT_W) / W], anchor="y" + sfx, range=[-1.51, 28.36], showgrid=False, zeroline=False,
              tickmode="array", tickvals=GENERATION_TICKS, ticks="outside", ticklen=6, tickwidth=1.3, tickcolor=INK,
              showline=True, linecolor=INK, linewidth=2, tickfont=dict(size=15, color=TICK))
    ya = dict(domain=[1 - bottom / H, 1 - top / H], anchor="x" + sfx, type=ytype, range=yrange, showgrid=False, zeroline=False,
              tickmode="array", tickvals=yticks, ticktext=ylabels, ticks="outside", ticklen=7, tickwidth=1.3, tickcolor=INK,
              showline=True, linecolor=INK, linewidth=2, tickfont=dict(size=15.5, color=TICK))
    if minor:
        ya["minor"] = dict(tickmode="array", tickvals=minor, ticks="outside", ticklen=4, tickwidth=1, tickcolor=INK)
    layout["xaxis" + sfx] = xa
    layout["yaxis" + sfx] = ya
    text(tx, (top + bottom) / 2 - .5, PANEL_TITLES[i], 27.5, rot=-90)
    if has_xlabel:
        text(left + 222.5, 1762, "Generation", 27.5)

# colour key drawn from the same shared colour axis
fig.add_trace(go.Heatmap(x=CBAR_LOSS, y=[0], z=[CBAR_LOSS], coloraxis="coloraxis", xaxis="x10", yaxis="y10", showscale=False))
layout["xaxis10"] = dict(domain=[1379 / W, 1910 / W], anchor="y10", type="log", range=[math.log10(.08293), math.log10(.07709)],
                         tickmode="array", tickvals=[.082, .081, .08, .079, .078],
                         ticktext=[nll_label(v) for v in [.082, .081, .08, .079, .078]],
                         ticks="outside", ticklen=7, tickwidth=1.2, tickcolor=INK, showgrid=False, zeroline=False,
                         showline=True, mirror=True, linecolor=INK, linewidth=1.5, tickfont=dict(size=15, color=TICK))
layout["yaxis10"] = dict(domain=[1 - 1849 / H, 1 - 1829 / H], anchor="x10", range=[-.5, .5], showticklabels=False, ticks="",
                         showgrid=False, zeroline=False, showline=True, mirror=True, linecolor=INK, linewidth=1.5)

text(981, 29, "<b>Hyperparameter Evolution</b>", 55, "#000000", family="Liberation Sans")
text(1246, 1243, "Loss Curves Evolution", 43.5, "#000000", family="Liberation Sans")
layout["annotations"] = notes
layout["shapes"] = [dict(type="rect", xref="paper", yref="paper", x0=598 / W, x1=1895 / W, y0=1 - 1794 / H, y1=1 - 1194 / H,
                         line=dict(color="black", width=4), fillcolor="rgba(0,0,0,0)", layer="below")]
fig.update_layout(**layout)
fig.write_html("out.html", post_script="document.body.style.margin='0';", config={"displayModeBar": False})
